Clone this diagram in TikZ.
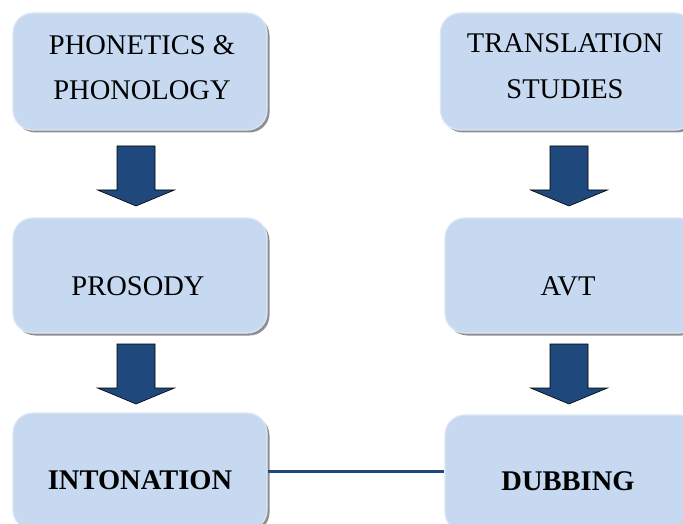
\documentclass[tikz,border=0pt]{standalone}
\usepackage{fontspec}
\setmainfont{Liberation Serif}
\usetikzlibrary{shadows}
\definecolor{boxfill}{HTML}{C6D9F1}
\definecolor{boxrim}{HTML}{DCE6F4}
\definecolor{navy}{HTML}{1F497D}
\tikzset{
  topic/.style={draw=boxrim, line width=1.2pt, fill=boxfill, rounded corners=20pt,
    minimum width=254pt, inner sep=0pt,
    drop shadow={shadow xshift=2.5pt, shadow yshift=-2.5pt, fill=black!55, opacity=0.8}},
  label txt/.style={font=\fontsize{28.5}{45}\selectfont, align=center, inner sep=0pt},
  pics/blockarrow/.style={code={
    \fill[navy, draw=black, line width=0.6pt]
      (-19,0) -- (19,0) -- (19,44) -- (38.5,44) -- (0,60) -- (-38.5,44) -- (-19,44) -- cycle;}},
  link/.style={draw=navy, line width=3.3pt}
}
\begin{document}
\begin{tikzpicture}[x=1pt, y=-1pt]
\useasboundingbox (0,0) rectangle (683,524);
\clip (0,0) rectangle (683,524);

% left column
\node[topic, minimum height=117pt] (phon) at (140,71.5) {};
\node[label txt] (phonT) at (142,68) {PHONETICS \&\\PHONOLOGY};
\node[topic, minimum height=115pt] (pros) at (140,275.5) {};
\node[label txt, anchor=base] (prosT) at (138,295) {PROSODY};
\node[topic, minimum height=117pt] (inton) at (140,471.5) {};
\node[label txt, anchor=base] (intonT) at (140,489) {\bfseries INTONATION};

% right column
\node[topic, minimum height=117pt] (trans) at (567.5,71.5) {};
\node[label txt, font=\fontsize{28.5}{46}\selectfont] (transT) at (565,66) {TRANSLATION\\STUDIES};
\node[topic, minimum height=115pt] (avt) at (572,275.5) {};
\node[label txt, anchor=base] (avtT) at (568,295) {AVT};
\node[topic, minimum height=117pt] (dub) at (572,473.5) {};
\node[label txt, anchor=base] (dubT) at (568,490) {\bfseries DUBBING};

% block arrows between stages
\pic at (136,146) {blockarrow};
\pic at (136,344) {blockarrow};
\pic at (569,146) {blockarrow};
\pic at (569,344) {blockarrow};

% link between the two end points
\draw[link] (inton.east) -- (inton.east -| dub.west);
\end{tikzpicture}
\end{document}
